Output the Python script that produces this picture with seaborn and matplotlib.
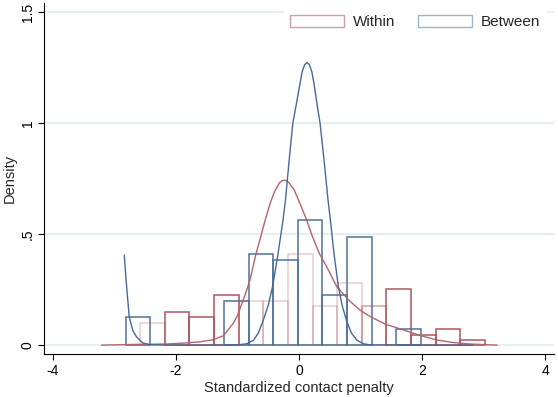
import matplotlib
matplotlib.use("Agg")
import matplotlib.pyplot as plt
from matplotlib.patches import Patch
import numpy as np
import pandas as pd
import seaborn as sns

# ---------------- data ----------------
within_edges = [-2.58, -2.18, -1.78, -1.38, -0.98, -0.58, -0.18, 0.22,
                0.62, 1.02, 1.42, 1.82, 2.22, 2.62, 3.02]
within_heights = [0.098, 0.150, 0.126, 0.228, 0.200, 0.200, 0.410, 0.176,
                  0.280, 0.176, 0.252, 0.047, 0.073, 0.022]

between_edges = [-2.82, -2.42, -2.02, -1.62, -1.22, -0.82, -0.42, -0.02,
                 0.38, 0.78, 1.18, 1.58, 1.98]
between_heights = [0.126, 0.0, 0.0, 0.0, 0.200, 0.410, 0.383, 0.563,
                   0.228, 0.485, 0.0, 0.072]

within_kx = [-3.21, -2.70, -2.15, -1.83, -1.61, -1.40, -1.23, -1.07, -1.01,
             -0.91, -0.80, -0.70, -0.62, -0.55, -0.47, -0.40, -0.32, -0.28,
             -0.24, -0.20, -0.16, -0.08, 0.016, 0.125, 0.22, 0.33, 0.45,
             0.61, 0.80, 0.99, 1.16, 1.40, 1.70, 1.95, 2.24, 2.50, 2.78, 3.22]
within_ky = [0.0, 0.003, 0.005, 0.010, 0.015, 0.024, 0.042, 0.098, 0.128,
             0.200, 0.290, 0.410, 0.490, 0.563, 0.638, 0.690, 0.730, 0.740,
             0.743, 0.740, 0.730, 0.700, 0.638, 0.563, 0.488, 0.413, 0.353,
             0.265, 0.205, 0.158, 0.128, 0.095, 0.068, 0.045, 0.023, 0.012,
             0.005, 0.0]

between_kx = [-2.84, -2.81, -2.76, -2.70, -2.64, -2.54, -2.43, -2.0, -1.5,
              -1.0, -0.85, -0.74, -0.66, -0.58, -0.50, -0.43, -0.34, -0.26,
              -0.22, -0.16, -0.10, -0.04, 0.016, 0.05, 0.09, 0.13, 0.17,
              0.21, 0.244, 0.29, 0.342, 0.407, 0.472, 0.51, 0.57, 0.64, 0.70,
              0.77, 0.85, 0.94, 1.05, 1.16, 2.0, 2.83]
between_ky = [0.405, 0.290, 0.128, 0.065, 0.037, 0.010, 0.002, 0.0, 0.0,
              0.001, 0.006, 0.022, 0.055, 0.113, 0.180, 0.263, 0.413, 0.563,
              0.653, 0.833, 1.000, 1.090, 1.178, 1.230, 1.262, 1.273, 1.262,
              1.230, 1.178, 1.090, 1.000, 0.833, 0.653, 0.563, 0.410, 0.263,
              0.180, 0.113, 0.055, 0.022, 0.006, 0.001, 0.0, 0.0]

series_labels = ["Within", "Between"]
x_ticks = [-4, -2, 0, 2, 4]
y_ticks = [0, 0.5, 1, 1.5]
y_ticklabels = ["0", ".5", "1", "1.5"]
x_label = "Standardized contact penalty"
y_label = "Density"

# ---------------- style ----------------
RED = "#b0535c"
BLUE = "#4f729b"
RED_LINE = "#b5646a"
BLUE_LINE = "#46699a"
RED_LEG = "#d49ea3"
BLUE_LEG = "#9fb3cb"
GRID = "#e6eff0"
within_alpha = [0.3, 1, 1, 1, 0.3, 0.3, 0.3, 0.3, 0.3, 0.55, 1, 1, 1, 1]

sns.set_theme(style="white")
plt.rcParams["font.family"] = ["Liberation Sans", "DejaVu Sans"]

fig = plt.figure(figsize=(5.58, 3.97), dpi=100)
ax = fig.add_axes([0.0794, 0.108, 0.914, 0.884])

for y in y_ticks:
    ax.axhline(y, color=GRID, lw=1.4, zorder=0)

wc = [(a + b) / 2 for a, b in zip(within_edges[:-1], within_edges[1:])]
bc = [(a + b) / 2 for a, b in zip(between_edges[:-1], between_edges[1:])]

n0 = len(ax.patches)
sns.histplot(x=wc, weights=within_heights, bins=within_edges, stat="count",
             fill=False, element="bars", color=RED, linewidth=1.1, ax=ax)
for p, a in zip(ax.patches[n0:], within_alpha):
    p.set_alpha(a)
    p.set_zorder(2)

n1 = len(ax.patches)
sns.histplot(x=bc, weights=between_heights, bins=between_edges, stat="count",
             fill=False, element="bars", color=BLUE, linewidth=1.1, ax=ax)
for p in ax.patches[n1:]:
    p.set_zorder(3)
    if p.get_height() <= 0:
        p.set_visible(False)

sns.lineplot(x=within_kx, y=within_ky, color=RED_LINE, lw=1.0, ax=ax,
             sort=False, estimator=None, zorder=4)
sns.lineplot(x=between_kx, y=between_ky, color=BLUE_LINE, lw=1.0, ax=ax,
             sort=False, estimator=None, zorder=5)

ax.set_xlim(-4.14, 4.15)
ax.set_ylim(-0.0405, 1.54)
ax.set_xticks(x_ticks)
ax.set_xticklabels([str(t) for t in x_ticks])
ax.set_yticks(y_ticks)
ax.set_yticklabels(y_ticklabels, rotation=90, va="center")
ax.tick_params(axis="both", direction="out", length=4, width=0.8,
               colors="black", labelsize=10, pad=3, bottom=True, left=True)
ax.set_xlabel(x_label, fontsize=10.5, labelpad=2)
ax.set_ylabel(y_label, fontsize=10.5, labelpad=3)
for s in ["top", "right"]:
    ax.spines[s].set_visible(False)
for s in ["left", "bottom"]:
    ax.spines[s].set_color("black")
    ax.spines[s].set_linewidth(0.8)

handles = [Patch(facecolor="white", edgecolor=RED_LEG, linewidth=1.0),
           Patch(facecolor="white", edgecolor=BLUE_LEG, linewidth=1.0)]
leg = ax.legend(handles, series_labels, loc="center right",
                bbox_to_anchor=(1.0, 0.947), ncol=2, frameon=True,
                fontsize=11, handlelength=3.55, handleheight=0.85,
                handletextpad=0.6, columnspacing=1.45, borderpad=0.4,
                fancybox=False)
leg.get_frame().set_edgecolor("none")
leg.get_frame().set_facecolor("white")
leg.get_frame().set_alpha(1)
leg.set_zorder(10)

fig.savefig("out.png", dpi=100)
